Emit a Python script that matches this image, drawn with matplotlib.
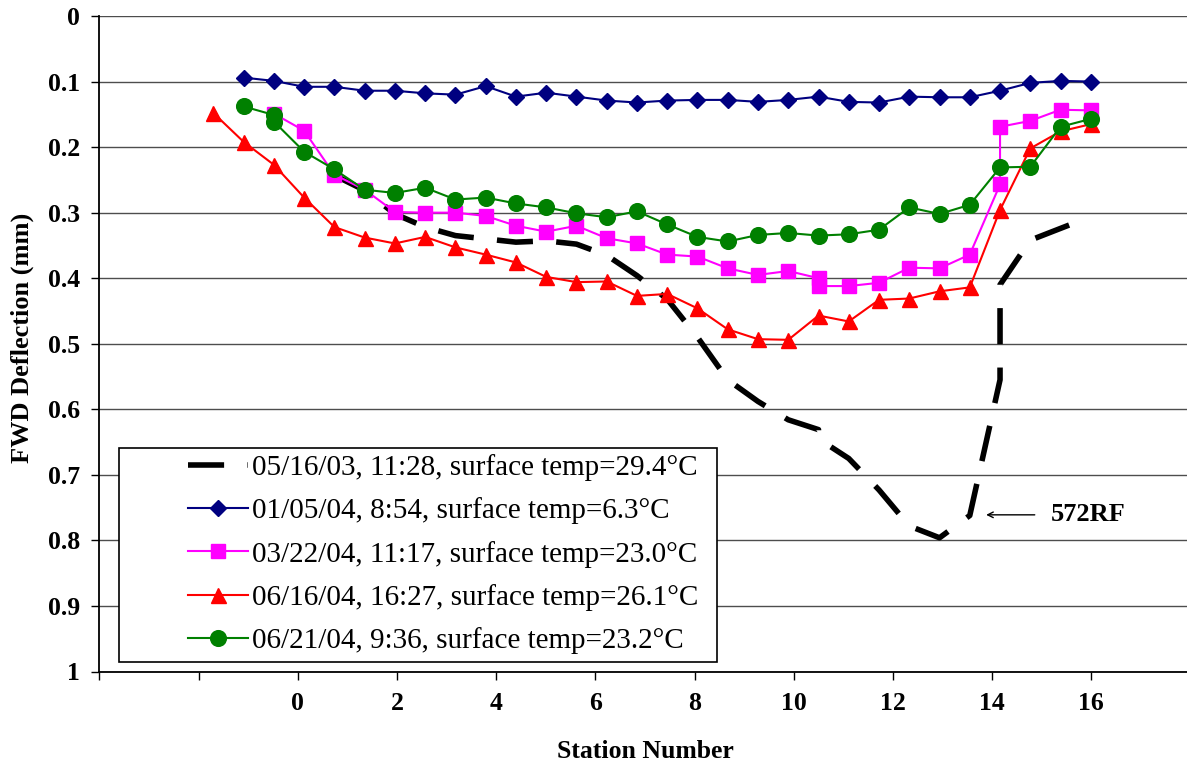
import matplotlib
matplotlib.use("Agg")
import matplotlib.pyplot as plt
from matplotlib.patches import Rectangle

plt.rcParams["font.family"] = ["Liberation Serif", "DejaVu Serif"]

# station positions of the test points
stations = [-1.70, -1.09, -0.48, 0.13, 0.74, 1.35, 1.96, 2.57, 3.18, 3.79,
            4.40, 5.01, 5.62, 6.23, 6.84, 7.45, 8.06, 8.67, 9.28, 9.89,
            10.50, 11.11, 11.72, 12.33, 12.94, 13.55, 14.16, 14.77, 15.38, 15.99]

labels = ["05/16/03, 11:28, surface temp=29.4\u00b0C",
          "01/05/04, 8:54, surface temp=6.3\u00b0C",
          "03/22/04, 11:17, surface temp=23.0\u00b0C",
          "06/16/04, 16:27, surface temp=26.1\u00b0C",
          "06/21/04, 9:36, surface temp=23.2\u00b0C"]

# 05/16/03 (dashed)
s1_idx = [4, 5, 6, 7, 8, 9, 10, 11, 12, 13, 14, 15, 16, 17, 18, 19, 20, 20,
          21, 22, 23, 24, 25, 26, 26, 27, 28, 29]
s1_defl = [0.243, 0.266, 0.302, 0.322, 0.335, 0.340, 0.345, 0.343, 0.348, 0.365,
           0.396, 0.432, 0.490, 0.555, 0.588, 0.616, 0.631, 0.645,
           0.675, 0.723, 0.778, 0.796, 0.762, 0.555, 0.410, 0.342, 0.324, 0.306]

# 01/05/04
s2_idx = list(range(1, 30))
s2_defl = [0.094, 0.099, 0.108, 0.108, 0.114, 0.114, 0.118, 0.120, 0.107, 0.123,
           0.117, 0.123, 0.129, 0.132, 0.129, 0.128, 0.128, 0.131, 0.128, 0.123,
           0.131, 0.132, 0.123, 0.124, 0.124, 0.114, 0.102, 0.099, 0.100]

# 03/22/04
s3_idx = [2, 3, 4, 5, 6, 7, 8, 9, 10, 11, 12, 13, 14, 15, 16, 17, 18, 19, 20, 20,
          21, 22, 23, 24, 25, 26, 26, 27, 28, 29]
s3_defl = [0.149, 0.175, 0.242, 0.265, 0.299, 0.300, 0.300, 0.305, 0.320, 0.329,
           0.320, 0.339, 0.347, 0.364, 0.367, 0.385, 0.395, 0.389, 0.400, 0.412,
           0.412, 0.407, 0.384, 0.385, 0.364, 0.257, 0.169, 0.160, 0.143, 0.144]

# 06/16/04
s4_idx = list(range(0, 30))
s4_defl = [0.148, 0.192, 0.227, 0.277, 0.322, 0.338, 0.347, 0.337, 0.353, 0.364,
           0.376, 0.398, 0.406, 0.405, 0.427, 0.424, 0.446, 0.478, 0.493, 0.494,
           0.457, 0.466, 0.433, 0.431, 0.420, 0.414, 0.296, 0.202, 0.176, 0.165]

# 06/21/04
s5_idx = [1, 2, 2, 3, 4, 5, 6, 7, 8, 9, 10, 11, 12, 13, 14, 15, 16, 17, 18, 19,
          20, 21, 22, 23, 24, 25, 26, 27, 28, 29]
s5_defl = [0.138, 0.151, 0.161, 0.207, 0.234, 0.265, 0.270, 0.262, 0.280, 0.277,
           0.286, 0.292, 0.301, 0.307, 0.298, 0.318, 0.337, 0.344, 0.334, 0.331,
           0.335, 0.333, 0.326, 0.292, 0.302, 0.288, 0.231, 0.230, 0.169, 0.157]

W, H = 1187, 767
fig = plt.figure(figsize=(W / 100, H / 100), dpi=100)
ax = fig.add_axes([99.3 / W, (H - 671.5) / H, (1190.5 - 99.3) / W, 655.5 / H])


def xs(idx):
    return [stations[i] for i in idx]


ax.plot(xs(s1_idx), s1_defl, color="black", lw=4.0, dashes=(6.5, 4.2),
        label=labels[0])
ax.plot(xs(s2_idx), s2_defl, color="#000080", lw=1.5, marker="D", ms=7.8,
        label=labels[1])
ax.plot(xs(s3_idx), s3_defl, color="#FF00FF", lw=1.5, marker="s", ms=10.5,
        label=labels[2])
ax.plot(xs(s4_idx), s4_defl, color="#FF0000", lw=1.5, marker="^", ms=10.8,
        label=labels[3])
ax.plot(xs(s5_idx), s5_defl, color="#008000", lw=1.5, marker="o", ms=11.3,
        label=labels[4])

ax.set_xlim(-4, 18)
ax.set_ylim(1, 0)
yt = [i / 10 for i in range(11)]
ax.set_yticks(yt)
ax.set_yticklabels(["0"] + [f"{v:.1f}" for v in yt[1:-1]] + ["1"],
                   fontsize=18.5, fontweight="bold")
xt = list(range(-4, 19, 2))
ax.set_xticks(xt)
ax.set_xticklabels(["" if v < 0 or v > 16 else str(v) for v in xt],
                   fontsize=18.5, fontweight="bold")
ax.tick_params(axis="x", direction="out", length=6, width=1, pad=9)
ax.tick_params(axis="y", direction="out", length=6, width=1, pad=8)

ax.yaxis.grid(True, color="0.3", lw=1.0)
ax.set_axisbelow(True)
for side in ["top", "right"]:
    ax.spines[side].set_visible(False)
for side in ["left", "bottom"]:
    ax.spines[side].set_linewidth(1.3)

fig.text(645 / W, 1 - 752 / H, "Station Number", fontsize=18.5,
         fontweight="bold", ha="center", va="center")
fig.text(22 / W, 1 - 338 / H, "FWD Deflection (mm)", fontsize=19,
         fontweight="bold", ha="center", va="center", rotation=90)

# 572RF callout
ax.annotate("", xy=(13.88, 0.761), xytext=(14.86, 0.761),
            arrowprops=dict(arrowstyle="->", color="black", lw=1.0,
                            shrinkA=0, shrinkB=0))
ax.text(15.19, 0.761, "572RF", fontsize=19, fontweight="bold",
        ha="left", va="center")

# legend frame drawn separately so the padding matches
frame = Rectangle((119 / W, 1 - 662 / H), (717 - 119) / W, (662 - 448) / H,
                  transform=fig.transFigure, facecolor="white",
                  edgecolor="black", lw=1.2, clip_on=False, zorder=4)
ax.add_patch(frame)
ax.legend(loc="upper left", bbox_to_anchor=(188 / W, 1 - 454 / H),
          bbox_transform=fig.transFigure, frameon=False, fontsize=21,
          borderpad=0, borderaxespad=0, handlelength=2.05, handletextpad=0.14,
          labelspacing=0.56)

fig.savefig("out.png", dpi=100)
